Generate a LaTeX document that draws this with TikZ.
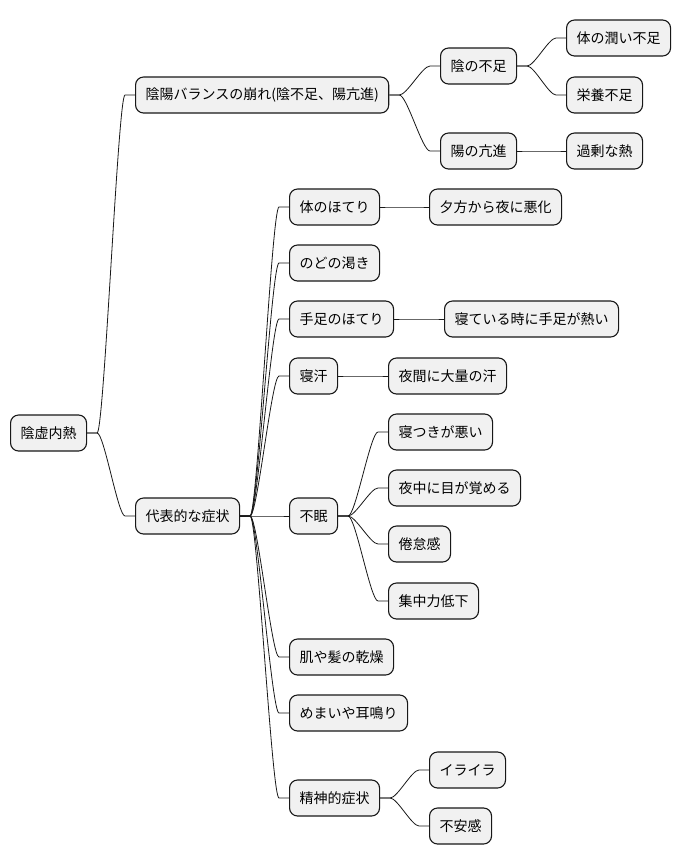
\documentclass[tikz,border=0pt]{standalone}
\usepackage{fontspec}
\newfontfamily\cjk{Noto Sans CJK JP}
\usetikzlibrary{calc}
\definecolor{boxfill}{HTML}{F1F1F1}
\definecolor{ink}{HTML}{181818}
\tikzset{
  mmbox/.style={draw=ink, fill=boxfill, line width=1.1pt, rounded corners=8pt,
    minimum height=36pt, inner xsep=10pt, inner ysep=0pt, anchor=west,
    font=\cjk\fontsize{14}{16}\selectfont},
  mm/.style={draw=ink, line width=0.8pt, to path={let \p1=(\tikztostart), \p2=(\tikztotarget) in
    -- ++(10pt,0) .. controls ({\x1+10pt+0.25*(\x2-\x1-20pt)},\y1) and ({\x2-10pt-0.25*(\x2-\x1-20pt)},\y2) .. ({\x2-10pt},\y2) -- (\tikztotarget)}}
}
\begin{document}
\begin{tikzpicture}[x=1pt,y=-1pt]
\useasboundingbox[fill=white] (0,0) rectangle (681,865);
\node[mmbox] (root) at (10,433) {陰虚内熱};
\node[mmbox] (a) at (135,95) {陰陽バランスの崩れ(陰不足、陽亢進)};
\node[mmbox] (b) at (135,516) {代表的な症状};
\node[mmbox] (a1) at (440,66) {陰の不足};
\node[mmbox] (a2) at (440,151) {陽の亢進};
\node[mmbox] (a11) at (566,38) {体の潤い不足};
\node[mmbox] (a12) at (566,95) {栄養不足};
\node[mmbox] (a21) at (566,151) {過剰な熱};
\node[mmbox] (b1) at (289,207) {体のほてり};
\node[mmbox] (b11) at (429,207) {夕方から夜に悪化};
\node[mmbox] (b2) at (289,263) {のどの渇き};
\node[mmbox] (b3) at (289,319) {手足のほてり};
\node[mmbox] (b31) at (444,319) {寝ている時に手足が熱い};
\node[mmbox] (b4) at (289,376) {寝汗};
\node[mmbox] (b41) at (388,376) {夜間に大量の汗};
\node[mmbox] (b5) at (289,516) {不眠};
\node[mmbox] (b51) at (388,432) {寝つきが悪い};
\node[mmbox] (b52) at (388,488) {夜中に目が覚める};
\node[mmbox] (b53) at (388,544) {倦怠感};
\node[mmbox] (b54) at (388,601) {集中力低下};
\node[mmbox] (b6) at (289,657) {肌や髪の乾燥};
\node[mmbox] (b7) at (289,713) {めまいや耳鳴り};
\node[mmbox] (b8) at (289,798) {精神的症状};
\node[mmbox] (b81) at (429,770) {イライラ};
\node[mmbox] (b82) at (429,826) {不安感};
\foreach \p/\c in {root/a,root/b,a/a1,a/a2,a1/a11,a1/a12,a2/a21,
  b/b1,b/b2,b/b3,b/b4,b/b5,b/b6,b/b7,b/b8,b1/b11,b3/b31,b4/b41,
  b5/b51,b5/b52,b5/b53,b5/b54,b8/b81,b8/b82}
  \draw[mm] (\p.east) to (\c.west);
\end{tikzpicture}
\end{document}
